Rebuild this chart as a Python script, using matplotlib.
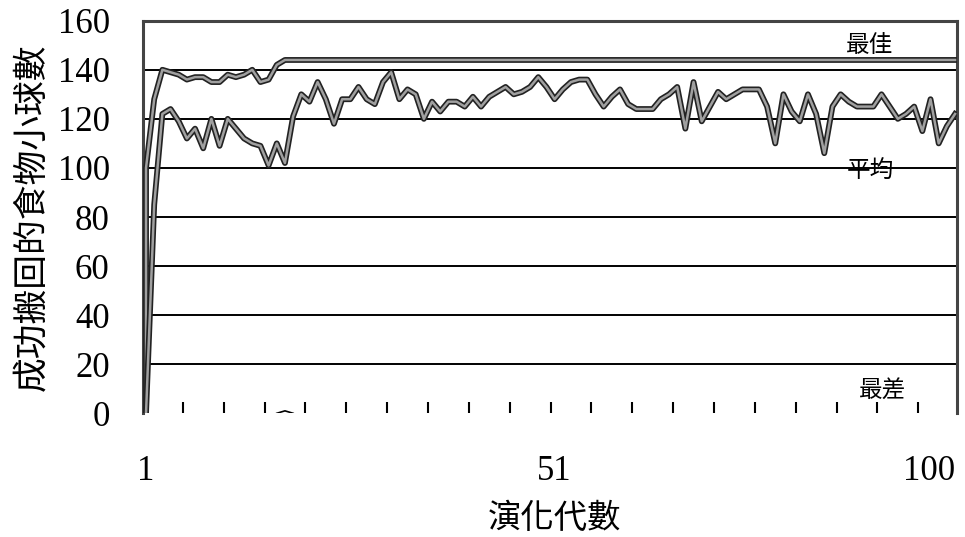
import numpy as np
import matplotlib.pyplot as plt
import matplotlib.patheffects as pe
import matplotlib.transforms as mtransforms

# generations 1..100
gens = np.arange(1, 101)

# best value per generation (starts from 0 at gen 1, jumps to 100)
best_start = 0
best = [100, 128, 140, 139, 138, 136, 137, 137, 135, 135,
        138, 137, 138, 140, 135, 136, 142, 144, 144, 144] + [144] * 80

# average value per generation
average = [0, 85, 122, 124, 119, 112, 116, 108, 120, 109,
           120, 116, 112, 110, 109, 101, 110, 102, 121, 130,
           127, 135, 128, 118, 128, 128, 133, 128, 126, 135,
           139, 128, 132, 130, 120, 127, 123, 127, 127, 125,
           129, 125, 129, 131, 133, 130, 131, 133, 137, 133,
           128, 132, 135, 136, 136, 130, 125, 129, 132, 126,
           124, 124, 124, 128, 130, 133, 116, 135, 119, 125,
           131, 128, 130, 132, 132, 132, 125, 110, 130, 123,
           119, 130, 122, 106, 125, 130, 127, 125, 125, 125,
           130, 125, 120, 122, 125, 115, 128, 110, 117, 122]

# worst value: 0 everywhere except a tiny bump near generation 18
worst = [0] * 100
worst[17] = 1

y_ticks = [0, 20, 40, 60, 80, 100, 120, 140, 160]
x_ticks = [1, 51, 100]
minor_x = np.arange(5.5, 96, 5)

serif = 'Liberation Serif'
cjk = ['Noto Sans CJK TC', 'DejaVu Sans']

fig = plt.figure(figsize=(9.65, 5.37), dpi=100)
ax = fig.add_axes([143 / 965, 1 - 413.3 / 537, (957 - 143) / 965, (413.3 - 20.7) / 537])

ax.set_xlim(0.63, 100.24)
ax.set_ylim(0, 160)

# horizontal grid lines
for v in y_ticks[1:-1]:
    ax.axhline(v, color='black', lw=1.4, zorder=1)

line_fx = [pe.Stroke(linewidth=4.2, foreground='#222222'), pe.Normal()]
ax.plot(np.concatenate([[gens[0]], gens]), [best_start] + best,
        color='#a0a0a0', lw=1.8, zorder=3, path_effects=line_fx)
ax.plot(gens, average, color='#a0a0a0', lw=1.8, zorder=3, path_effects=line_fx)
# only the small bump of the worst line is visible
ax.plot(gens[16:19], worst[16:19], color='black', lw=1.2, zorder=3)

ax.set_yticks(y_ticks)
ax.set_yticklabels([str(v) for v in y_ticks], fontfamily=serif, fontsize=25)
ax.tick_params(axis='y', length=0, pad=24)

ax.set_xticks(x_ticks)
ax.set_xticklabels([str(v) for v in x_ticks], fontfamily=serif, fontsize=25)
last = ax.get_xticklabels()[-1]
last.set_ha('right')
last.set_transform(last.get_transform() + mtransforms.ScaledTranslation(0.05, 0, fig.dpi_scale_trans))
ax.set_xticks(minor_x, minor=True)
ax.tick_params(axis='x', which='major', length=0, pad=30)
ax.tick_params(axis='x', which='minor', direction='in', length=8, width=1.5, color='black')

for side in ['top', 'left', 'right']:
    ax.spines[side].set_color('#444444')
    ax.spines[side].set_linewidth(2.2)
ax.spines['bottom'].set_visible(False)

ax.set_ylabel('成功搬回的食物小球數', fontfamily=cjk, fontsize=25, fontweight='light', labelpad=6)
fig.text(555 / 965, 1 - 518 / 537, '演化代數', fontfamily=cjk, fontsize=24,
         fontweight='light', ha='center', va='center')

ax.text(89.6, 150, '最佳', fontfamily=cjk, fontsize=17, fontweight='light', ha='center', va='center')
ax.text(89.6, 98.5, '平均', fontfamily=cjk, fontsize=17, fontweight='light', ha='center', va='center')
ax.text(91.1, 9.5, '最差', fontfamily=cjk, fontsize=17, fontweight='light', ha='center', va='center')

fig.savefig('out.png', dpi=100)
